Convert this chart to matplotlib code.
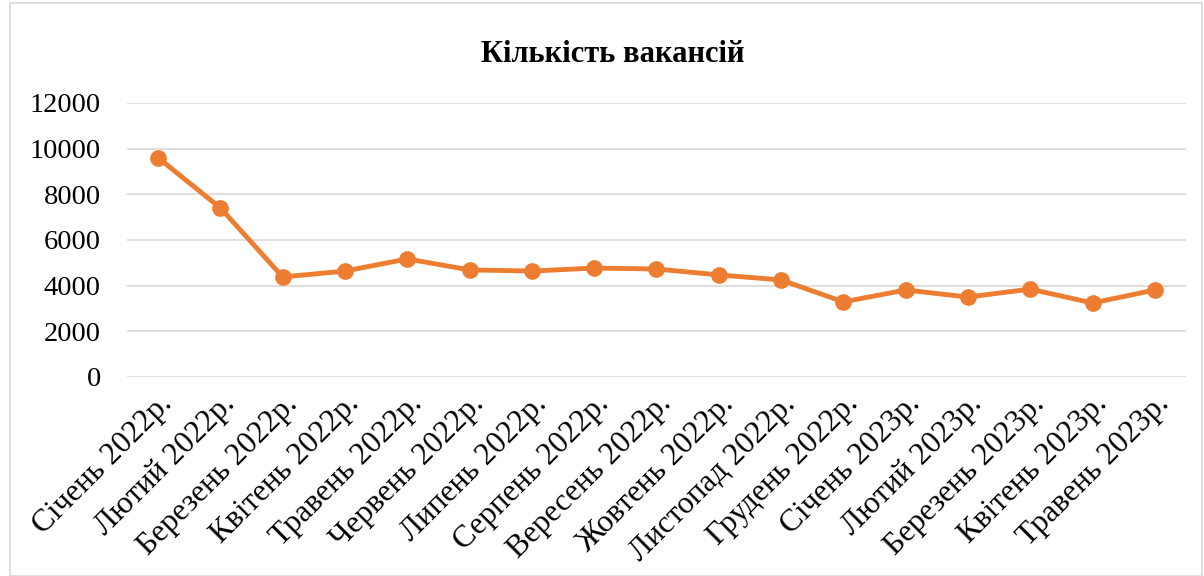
import matplotlib.pyplot as plt
from matplotlib.patches import Rectangle

plt.rcParams['font.family'] = ['Liberation Serif', 'DejaVu Serif']

months = ['Січень 2022р.', 'Лютий 2022р.', 'Березень 2022р.', 'Квітень 2022р.',
          'Травень 2022р.', 'Червень 2022р.', 'Липень 2022р.', 'Серпень 2022р.',
          'Вересень 2022р.', 'Жовтень 2022р.', 'Листопад 2022р.', 'Грудень 2022р.',
          'Січень 2023р.', 'Лютий 2023р.', 'Березень 2023р.', 'Квітень 2023р.',
          'Травень 2023р.']
vacancies = [9600, 7400, 4380, 4640, 5170, 4690, 4640, 4770, 4730, 4470,
             4250, 3290, 3810, 3500, 3850, 3240, 3810]

fig = plt.figure(figsize=(12.04, 5.76), dpi=100)
ax = fig.add_axes([0.1055, 0.3455, 0.8795, 0.4757])

x = range(len(months))
ax.plot(x, vacancies, color='#ED7D31', linewidth=3.5, marker='o',
        markersize=11, zorder=3)

ax.set_xlim(-0.5, len(months) - 0.5)
ax.set_ylim(0, 12000)
ax.set_yticks(range(0, 12001, 2000))
ax.grid(axis='y', color='#d9d9d9', linewidth=1.2)
ax.set_axisbelow(True)
for s in ax.spines.values():
    s.set_visible(False)
ax.tick_params(axis='both', length=0, colors='black')
ax.tick_params(axis='y', pad=19, labelsize=20.5)
ax.set_xticks(list(x))
ax.set_xticklabels(months, rotation=45, ha='right', rotation_mode='anchor')
ax.tick_params(axis='x', pad=9, labelsize=22.5)

fig.text(0.509, 0.905, 'Кількість вакансій', ha='center', va='center',
         fontsize=22, fontweight='bold')

fig.patches.append(Rectangle((0.008, 0.0), 0.99, 0.995, transform=fig.transFigure,
                             fill=False, edgecolor='#d9d9d9', linewidth=1.2))

fig.savefig('out.png', dpi=100)
